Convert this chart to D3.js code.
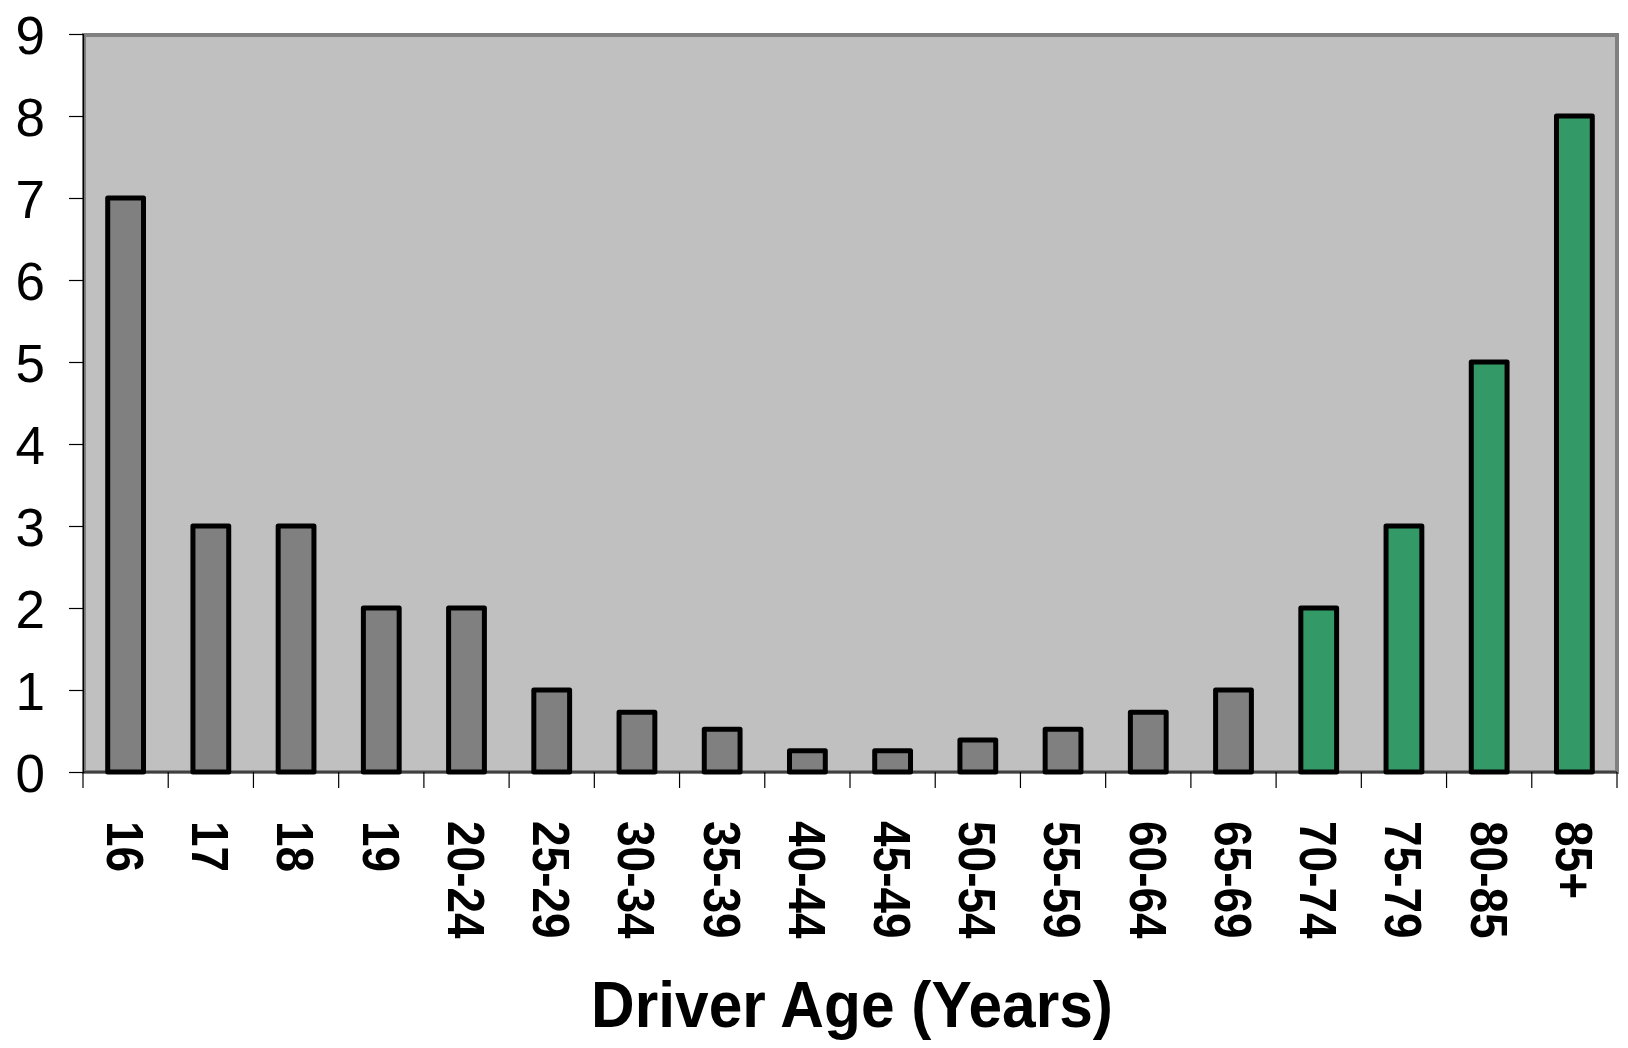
<!DOCTYPE html>
<html>
<head>
<meta charset="utf-8">
<script src="https://cdn.jsdelivr.net/npm/d3@7"></script>
<style>
    body { margin: 0; background: #fff; }
    svg { display: block; }
</style>
</head>
<body>
<div id="chart"></div>
<script>
// ---------------------------------- Data ----------------------------------
var ageGroups = ["16", "17", "18", "19", "20-24", "25-29", "30-34", "35-39", "40-44",
    "45-49", "50-54", "55-59", "60-64", "65-69", "70-74", "75-79", "80-85", "85+"];
var rates = [7, 3, 3, 2, 2, 1, 0.73, 0.52, 0.26, 0.26, 0.39, 0.52, 0.73, 1, 2, 3, 5, 8];
var olderGroups = ["70-74", "75-79", "80-85", "85+"];
var yTicks = [0, 1, 2, 3, 4, 5, 6, 7, 8, 9];

// ---------------------------------- Layout ----------------------------------
var width = 1628, height = 1048;
var margin = { top: 34, right: 11, bottom: 276, left: 83 };
var plotW = width - margin.left - margin.right,
    plotH = height - margin.top - margin.bottom;

var svg = d3.select("#chart")
    .append("svg")
    .attr("width", width)
    .attr("height", height);

var g = svg.append("g")
    .attr("transform", "translate(" + margin.left + "," + margin.top + ")");

var x = d3.scaleBand()
    .domain(ageGroups)
    .range([0, plotW])
    .paddingInner(0.58)
    .paddingOuter(0.29);

var y = d3.scaleLinear()
    .domain([0, 9])
    .range([plotH, 0]);

// plot area background + gray frame
g.append("rect")
    .attr("x", 1)
    .attr("y", 1)
    .attr("width", plotW - 1)
    .attr("height", plotH - 1)
    .attr("fill", "#c0c0c0")
    .attr("stroke", "#808080")
    .attr("stroke-width", 4);

// Bars
g.selectAll("rect.bar")
    .data(ageGroups)
    .enter()
    .append("rect")
    .attr("class", "bar")
    .attr("x", function (d) { return x(d); })
    .attr("y", function (d, i) { return y(rates[i]); })
    .attr("width", x.bandwidth())
    .attr("height", function (d, i) { return plotH - y(rates[i]); })
    .attr("fill", function (d) { return olderGroups.indexOf(d) >= 0 ? "#339966" : "#808080"; })
    .attr("stroke", "#000")
    .attr("stroke-width", 5)
    .attr("stroke-linejoin", "round");

// Y axis
var yAxis = g.append("g")
    .call(d3.axisLeft(y).tickValues(yTicks).tickSize(14).tickPadding(24).tickFormat(d3.format("d")));
yAxis.select(".domain").attr("stroke", "#000").attr("stroke-width", 1.2);
yAxis.selectAll(".tick line").attr("stroke", "#000").attr("stroke-width", 1.2);
yAxis.selectAll("text")
    .attr("font-family", "Liberation Sans, Arial, sans-serif")
    .attr("font-size", 53)
    .attr("fill", "#000")
    .attr("dy", "0.36em");

// X axis: ticks sit on the band boundaries
var bounds = ageGroups.map(function (d) { return x(d) - x.step() * x.paddingInner() / 2; });
bounds.push(plotW);
var xAxis = g.append("g").attr("transform", "translate(0," + plotH + ")");
xAxis.append("line")
    .attr("x1", 0).attr("x2", plotW)
    .attr("stroke", "#000").attr("stroke-width", 1.2);
xAxis.selectAll("line.tick")
    .data(bounds)
    .enter()
    .append("line")
    .attr("class", "tick")
    .attr("x1", function (d) { return d; })
    .attr("x2", function (d) { return d; })
    .attr("y1", 0).attr("y2", 16)
    .attr("stroke", "#000").attr("stroke-width", 1.2);

// rotated category labels
xAxis.selectAll("text.cat")
    .data(ageGroups)
    .enter()
    .append("text")
    .attr("class", "cat")
    .attr("transform", function (d) {
        return "translate(" + (x(d) + x.bandwidth() / 2) + ",49) rotate(90) scale(1,1.12)";
    })
    .attr("dy", "0.36em")
    .attr("font-family", "Liberation Sans, Arial, sans-serif")
    .attr("font-weight", "bold")
    .attr("font-size", 46)
    .attr("fill", "#000")
    .text(function (d) { return d; });

// axis title
svg.append("text")
    .attr("transform", "translate(" + (margin.left + plotW / 2 + 2) + ",1027) scale(0.93,1)")
    .attr("text-anchor", "middle")
    .attr("font-family", "Liberation Sans, Arial, sans-serif")
    .attr("font-weight", "bold")
    .attr("font-size", 65)
    .attr("fill", "#000")
    .text("Driver Age (Years)");
</script>
</body>
</html>
